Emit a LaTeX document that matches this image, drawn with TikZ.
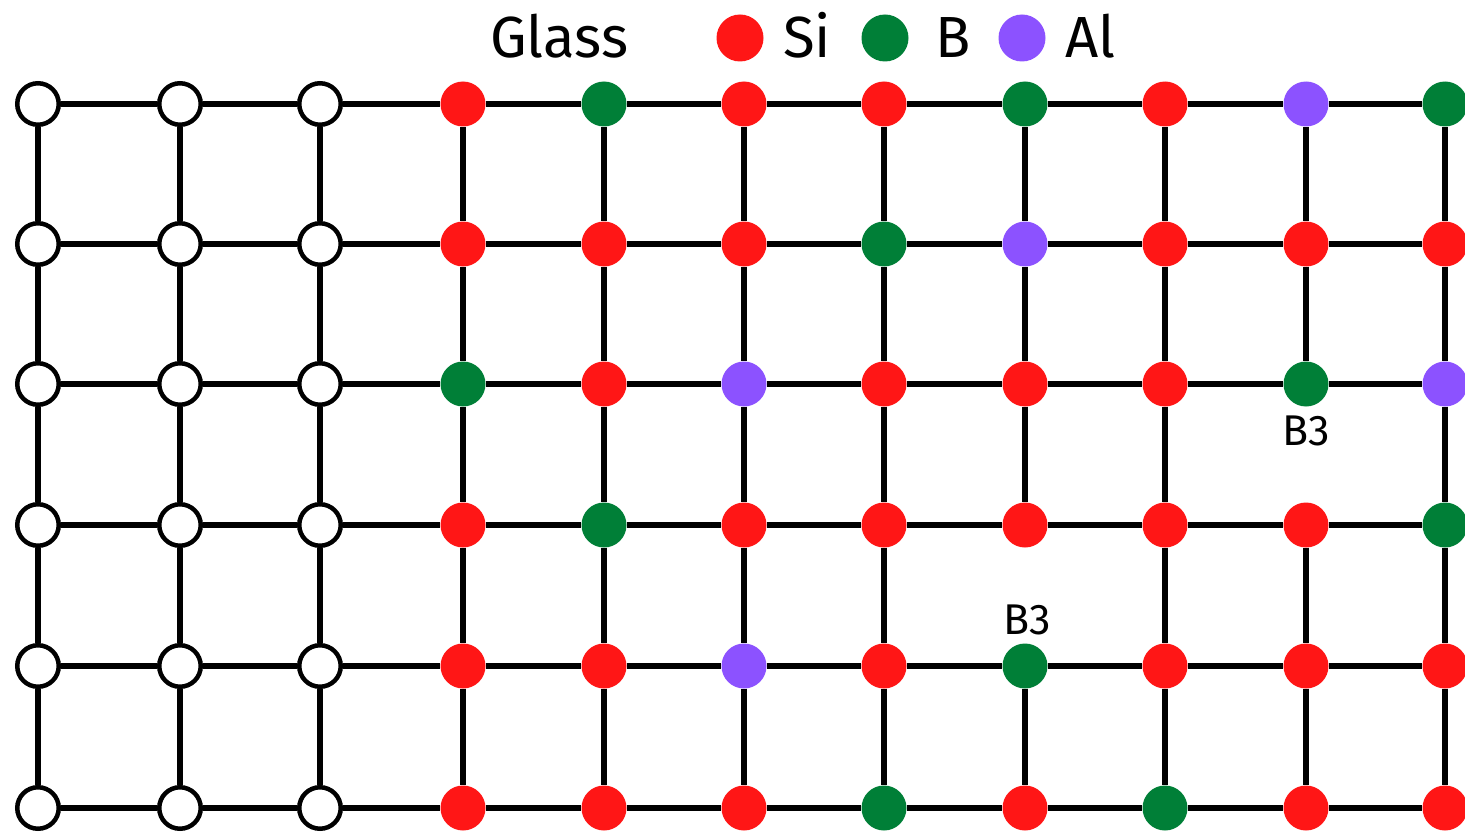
\documentclass[tikz,border=0pt]{standalone}
\usepackage{fontspec}
\setmainfont{Fira Sans}
\definecolor{sired}{HTML}{FF1616}
\definecolor{bgreen}{HTML}{007F37}
\definecolor{alpurple}{HTML}{8C52FF}
\begin{document}
\begin{tikzpicture}[x=1pt,y=-1pt,
  bond/.style={line width=6pt,black},
  typeG/.style={circle,draw=black,line width=4.5pt,fill=white,minimum size=41.5pt,inner sep=0pt},
  typeS/.style={circle,fill=sired,minimum size=45pt,inner sep=0pt},
  typeB/.style={circle,fill=bgreen,minimum size=45pt,inner sep=0pt},
  typeA/.style={circle,fill=alpurple,minimum size=45pt,inner sep=0pt},
  legtext/.style={inner sep=0pt,anchor=base west,font=\fontsize{58}{60}\selectfont},
  blabel/.style={inner sep=0pt,font=\fontsize{43}{46}\selectfont}]
\useasboundingbox (0,0) rectangle (1465,832);

% legend
\node[legtext] (title) at (490,58) {Glass};
\node[typeS,minimum width=45pt,minimum height=47pt] (legS) at (740,38) {};
\node[legtext] (legSt) at (783,58) {Si};
\node[typeB,minimum width=45pt,minimum height=47pt] (legB) at (885,38) {};
\node[legtext] (legBt) at (935,58) {B};
\node[typeA,minimum width=45pt,minimum height=47pt] (legA) at (1022,38) {};
\node[legtext] (legAt) at (1065,58) {Al};

% atoms
\foreach \r/\yy/\types in {
  1/104/{G,G,G,S,B,S,S,B,S,A,B},
  2/244/{G,G,G,S,S,S,B,A,S,S,S},
  3/384/{G,G,G,B,S,A,S,S,S,B,A},
  4/525/{G,G,G,S,B,S,S,S,S,S,B},
  5/666/{G,G,G,S,S,A,S,B,S,S,S},
  6/808/{G,G,G,S,S,S,B,S,B,S,S}}{
  \foreach \t [count=\c] in \types {
    \pgfmathsetmacro\xx{{38,180,320,463,604,744,884,1025,1165,1306,1445}[\c-1]}
    \node[type\t] (n-\r-\c) at (\xx,\yy) {};
  }
}

% horizontal bonds
\foreach \r in {1,...,6}{
  \foreach \c in {1,...,10}{
    \pgfmathtruncatemacro\cn{\c+1}
    \draw[bond] (n-\r-\c) -- (n-\r-\cn);
  }
}
% vertical bonds (two missing at the B3 sites)
\foreach \r in {1,...,5}{
  \foreach \c in {1,...,11}{
    \pgfmathtruncatemacro\rn{\r+1}
    \pgfmathtruncatemacro\skip{(\r==3 && \c==10) || (\r==4 && \c==8) ? 1 : 0}
    \ifnum\skip=0
      \draw[bond] (n-\r-\c) -- (n-\rn-\c);
    \fi
  }
}

% labels
\node[blabel] (b3a) at (1306,431) {B3};
\node[blabel] (b3b) at (1027,620) {B3};
\end{tikzpicture}
\end{document}
